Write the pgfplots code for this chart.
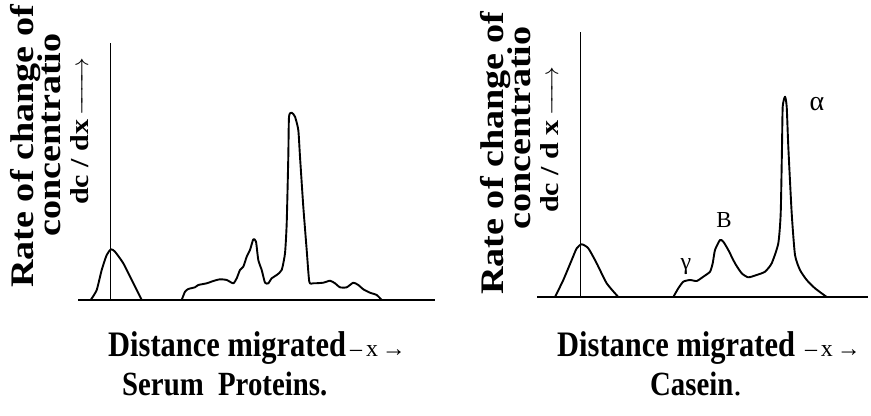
\documentclass[border=0pt]{standalone}
\usepackage{amsmath}
\usepackage{fontspec}
\usepackage{pgfplots}
\pgfplotsset{compat=1.18}
\setmainfont{Liberation Serif}
\newfontface\ylabfont[FakeStretch=1.16]{Liberation Serif Bold}
\newfontface\capfont[FakeStretch=0.85]{Liberation Serif Bold}
\pgfplotsset{
  chromo/.style={
    x=1bp, y=1bp, ymin=0,
    axis x line*=bottom, axis y line=none,
    xtick=\empty, ytick=\empty,
    axis line style={line width=1.1bp},
    clip=false,
  },
  curve/.style={black, line width=1.9bp, line join=round, mark=none, smooth, tension=0.35},
  startline/.style={black, line width=0.8bp, mark=none},
}
\begin{document}
\begin{tikzpicture}
\useasboundingbox (0,0) rectangle (871bp,416bp);
% ---------- Serum proteins ----------
\begin{axis}[chromo, xmin=78, xmax=435, ymax=257, at={(78bp,116bp)}, anchor=south west]
\addplot[startline] coordinates {(110,0) (110,257)};
\addplot[curve] coordinates {(90.7,0) (96.7,10) (101.7,30) (106.7,45) (111,50.7) (115,48.3) (123.3,36.7) (131.7,20) (141.7,0)};
\addplot[curve] coordinates {(181.7,0) (185,8.3) (188.3,11) (195,12.7) (198.3,15) (206.7,16.7) (213.3,19) (220,20.7) (226.7,20) (233.3,16.7) (236.7,21.7) (240,30) (243.3,33.3) (246.7,43.3) (250,50) (253.3,60.7) (256,58.3) (258.3,40) (261.7,30) (265,17.3) (268.3,16.7) (271.7,21.7) (276.7,25) (281.7,30) (285,46.7) (286.7,76.7) (288.3,143.3) (289,183.3) (291.7,187.3) (295,183.3) (298.3,170) (300,143.3) (303.3,93.3) (306.7,50) (309.3,18.3) (313.3,16.7) (323.3,17.3) (330,19.3) (335,16.7) (340,12.7) (346.7,12.7) (353.3,17.3) (358.3,15) (363.3,10.7) (370,7.3) (376.7,5) (381.7,0)};
\end{axis}
% ---------- Casein ----------
\begin{axis}[chromo, xmin=537, xmax=868, ymax=265, at={(537bp,119bp)}, anchor=south west]
\addplot[startline] coordinates {(580,0) (580,265)};
\addplot[curve] coordinates {(555,0) (563.3,17) (571.7,37) (576.7,48.7) (581.7,52.7) (588.3,48.7) (596.7,33.7) (606.7,13.7) (618.3,0)};
\addplot[curve] coordinates {(673.3,0) (678.3,8.7) (683.3,15.3) (690,17) (696.7,16) (703.3,20.3) (710,25.3) (712.7,33.7) (715,47) (720,57) (723.3,55.3) (728.3,47) (735,33.7) (741.7,23.7) (748.3,19.7) (756.7,22) (765,25.3) (771.7,33.7) (778.3,53.7) (780.7,83.7) (782,150.3) (782.7,190.3) (785,200.3) (786.7,190.3) (788.3,150.3) (791.7,83.7) (795,42) (800,27) (806.7,17) (815,8.7) (826.7,0)};
\node[font=\fontsize{24}{26}\selectfont] at (axis cs:686,30) {γ};
\node[font=\fontsize{23}{24}\selectfont] at (axis cs:724,77) {B};
\node[font=\fontsize{28}{30}\selectfont] at (axis cs:817,193) {α};
\end{axis}
% ---------- y labels ----------
\begin{scope}[every node/.style={inner sep=0pt, rotate=90, anchor=base west}]
\node[font=\ylabfont\fontsize{33}{36}\selectfont] at (33bp,128bp) {Rate of change of};
\node[font=\ylabfont\fontsize{33}{36}\selectfont] at (60bp,179bp) {concentratio};
\node[font=\ylabfont\fontsize{26}{28}\selectfont] at (88bp,211bp) {dc / dx\,$\xrightarrow{\hspace{44bp}}$};
\node[font=\ylabfont\fontsize{33}{36}\selectfont] at (503bp,121bp) {Rate of change of};
\node[font=\ylabfont\fontsize{33}{36}\selectfont] at (530bp,186bp) {concentratio};
\node[font=\ylabfont\fontsize{26}{28}\selectfont] at (558bp,203bp) {dc / d x\,$\xrightarrow{\hspace{36bp}}$};
\end{scope}
% ---------- captions ----------
\begin{scope}[every node/.style={inner sep=0pt, anchor=base west}]
\node[font=\capfont\fontsize{36}{40}\selectfont] at (108bp,59bp) {Distance migrated{\normalfont\fontsize{24}{26}\selectfont\,–\,x\,→}};
\node[font=\capfont\fontsize{34}{38}\selectfont] at (122bp,21bp) {Serum\ \ Proteins.};
\node[font=\capfont\fontsize{36}{40}\selectfont] at (557bp,59bp) {Distance migrated{\normalfont\fontsize{24}{26}\selectfont\ \,–\,x\,→}};
\node[font=\capfont\fontsize{34}{38}\selectfont] at (650bp,21bp) {Casein{\normalfont.}};
\end{scope}
\end{tikzpicture}
\end{document}
